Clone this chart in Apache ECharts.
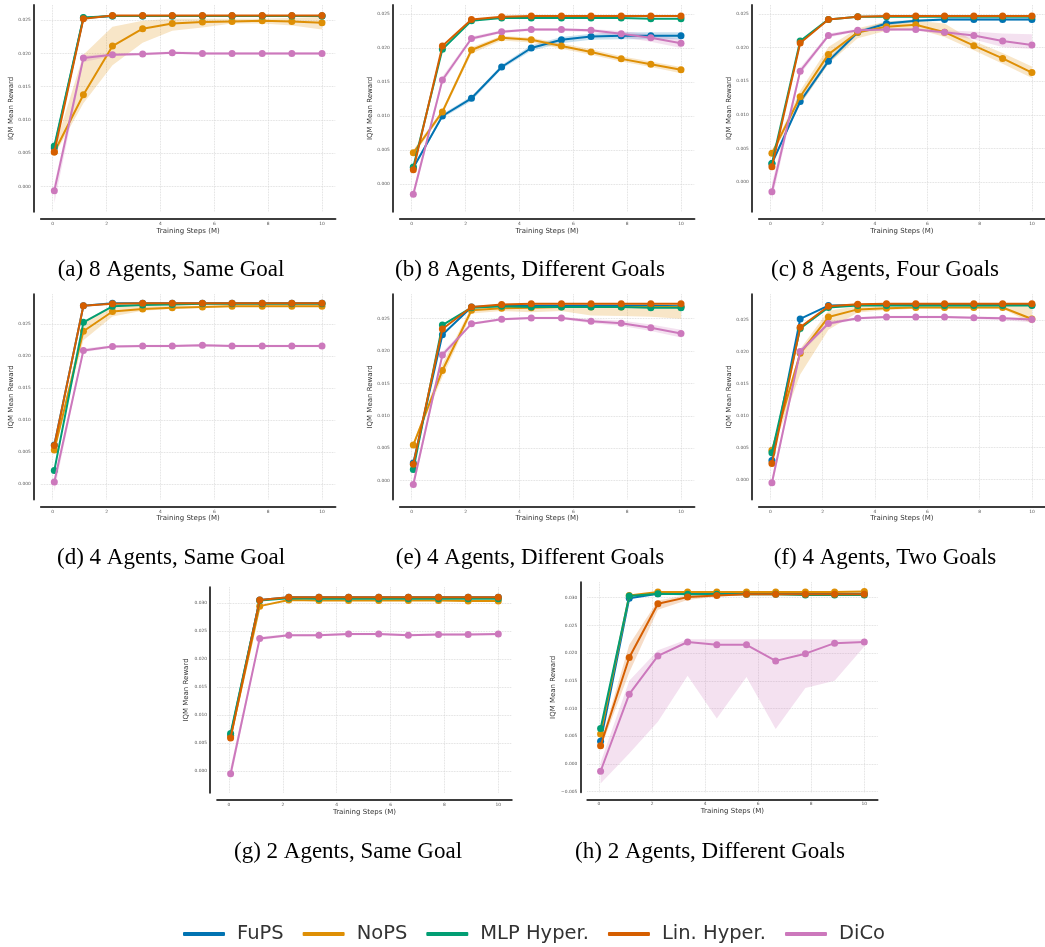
<!DOCTYPE html>
<html>
<head>
<meta charset="utf-8">
<script src="https://cdn.jsdelivr.net/npm/echarts@6/dist/echarts.min.js"></script>
<style>
	html, body { margin: 0; padding: 0; background: #fff; }
	#chart { width: 1045px; height: 947px; }
</style>
</head>
<body>
<div id="chart"></div>
<script>
const steps = [0.06, 1.14, 2.22, 3.34, 4.44, 5.56, 6.66, 7.78, 8.88, 10]
const methods = ['FuPS', 'NoPS', 'MLP Hyper.', 'Lin. Hyper.', 'DiCo']
const colors = ['#0173b2', '#de8f05', '#029e73', '#d55e00', '#cc78bc']
const xTicks = [0, 2, 4, 6, 8, 10]
const yTicks25 = [0, 0.005, 0.01, 0.015, 0.02, 0.025]
const yTicks30 = [0, 0.005, 0.01, 0.015, 0.02, 0.025, 0.03]
const yTicks30n = [-0.005, 0, 0.005, 0.01, 0.015, 0.02, 0.025, 0.03]

// (a) 8 Agents, Same Goal
const aFuPS = [0.0058, 0.0253, 0.0256, 0.0256, 0.0256, 0.0256, 0.0256, 0.0256, 0.0256, 0.0256]
const aNoPS = [0.0052, 0.0138, 0.0211, 0.0237, 0.0245, 0.0247, 0.0248, 0.0249, 0.0248, 0.0246]
const aMLP = [0.0061, 0.0254, 0.0256, 0.0256, 0.0256, 0.0256, 0.0256, 0.0256, 0.0256, 0.0256]
const aLin = [0.0052, 0.0252, 0.0257, 0.0257, 0.0257, 0.0257, 0.0257, 0.0257, 0.0257, 0.0257]
const aDiCo = [-0.0006, 0.0193, 0.0198, 0.0199, 0.0201, 0.0200, 0.0200, 0.0200, 0.0200, 0.0200]
const aNoPSLo = [0.0047, 0.0125, 0.0182, 0.0216, 0.0234, 0.0239, 0.0245, 0.0245, 0.0242, 0.0236]
const aNoPSHi = [0.0057, 0.0198, 0.0240, 0.0249, 0.0252, 0.0252, 0.0252, 0.0252, 0.0253, 0.0255]
const aDiCoLo = [-0.0025, 0.0187, 0.0196, 0.0197, 0.0199, 0.0198, 0.0198, 0.0198, 0.0198, 0.0198]
const aDiCoHi = [0.0004, 0.0197, 0.0200, 0.0201, 0.0203, 0.0202, 0.0202, 0.0202, 0.0202, 0.0202]

// (b) 8 Agents, Different Goals
const bFuPS = [0.0024, 0.0100, 0.0126, 0.0172, 0.0200, 0.0212, 0.0217, 0.0218, 0.0218, 0.0218]
const bNoPS = [0.0046, 0.0106, 0.0197, 0.0215, 0.0212, 0.0203, 0.0194, 0.0184, 0.0176, 0.0168]
const bMLP = [0.0025, 0.0198, 0.0240, 0.0244, 0.0244, 0.0244, 0.0244, 0.0244, 0.0243, 0.0243]
const bLin = [0.0021, 0.0203, 0.0242, 0.0246, 0.0247, 0.0247, 0.0247, 0.0247, 0.0247, 0.0247]
const bDiCo = [-0.0015, 0.0153, 0.0214, 0.0224, 0.0227, 0.0227, 0.0226, 0.0221, 0.0215, 0.0207]
const bFuPSLo = [0.0021, 0.0097, 0.0122, 0.0169, 0.0196, 0.0207, 0.0212, 0.0213, 0.0213, 0.0213]
const bFuPSHi = [0.0027, 0.0103, 0.0129, 0.0175, 0.0204, 0.0216, 0.0221, 0.0223, 0.0223, 0.0223]
const bNoPSLo = [0.0042, 0.0102, 0.0192, 0.0211, 0.0208, 0.0199, 0.0190, 0.0180, 0.0172, 0.0163]
const bNoPSHi = [0.0050, 0.0110, 0.0201, 0.0218, 0.0215, 0.0207, 0.0198, 0.0188, 0.0180, 0.0172]
const bDiCoLo = [-0.0022, 0.0148, 0.0211, 0.0222, 0.0225, 0.0225, 0.0223, 0.0216, 0.0209, 0.0200]
const bDiCoHi = [-0.0008, 0.0158, 0.0217, 0.0226, 0.0229, 0.0229, 0.0228, 0.0225, 0.0220, 0.0213]

// (c) 8 Agents, Four Goals
const cFuPS = [0.0028, 0.0120, 0.0180, 0.0223, 0.0236, 0.0240, 0.0242, 0.0242, 0.0242, 0.0242]
const cNoPS = [0.0043, 0.0127, 0.0190, 0.0223, 0.0231, 0.0234, 0.0223, 0.0203, 0.0184, 0.0163]
const cMLP = [0.0028, 0.0210, 0.0242, 0.0246, 0.0246, 0.0246, 0.0246, 0.0246, 0.0246, 0.0246]
const cLin = [0.0023, 0.0207, 0.0242, 0.0246, 0.0247, 0.0247, 0.0247, 0.0247, 0.0247, 0.0247]
const cDiCo = [-0.0014, 0.0165, 0.0218, 0.0226, 0.0227, 0.0227, 0.0223, 0.0218, 0.0210, 0.0204]
const cFuPSLo = [0.0025, 0.0116, 0.0176, 0.0220, 0.0233, 0.0238, 0.0240, 0.0240, 0.0240, 0.0240]
const cFuPSHi = [0.0031, 0.0124, 0.0184, 0.0226, 0.0239, 0.0242, 0.0244, 0.0244, 0.0244, 0.0244]
const cNoPSLo = [0.0040, 0.0115, 0.0176, 0.0214, 0.0225, 0.0228, 0.0216, 0.0196, 0.0176, 0.0155]
const cNoPSHi = [0.0046, 0.0136, 0.0201, 0.0229, 0.0239, 0.0240, 0.0236, 0.0210, 0.0192, 0.0172]
const cDiCoLo = [-0.0027, 0.0160, 0.0215, 0.0224, 0.0225, 0.0225, 0.0220, 0.0212, 0.0201, 0.0198]
const cDiCoHi = [-0.0002, 0.0170, 0.0221, 0.0228, 0.0229, 0.0229, 0.0226, 0.0224, 0.0221, 0.0220]

// (d) 4 Agents, Same Goal
const dFuPS = [0.0061, 0.0279, 0.0283, 0.0283, 0.0283, 0.0283, 0.0283, 0.0283, 0.0283, 0.0283]
const dNoPS = [0.0053, 0.0239, 0.0270, 0.0274, 0.0276, 0.0277, 0.0278, 0.0278, 0.0278, 0.0278]
const dMLP = [0.0021, 0.0253, 0.0278, 0.0280, 0.0281, 0.0282, 0.0282, 0.0282, 0.0282, 0.0282]
const dLin = [0.0060, 0.0279, 0.0282, 0.0283, 0.0283, 0.0283, 0.0283, 0.0283, 0.0283, 0.0283]
const dDiCo = [0.0003, 0.0209, 0.0215, 0.0216, 0.0216, 0.0217, 0.0216, 0.0216, 0.0216, 0.0216]
const dNoPSLo = [0.0050, 0.0225, 0.0262, 0.0271, 0.0274, 0.0276, 0.0277, 0.0277, 0.0277, 0.0277]
const dNoPSHi = [0.0056, 0.0255, 0.0279, 0.0278, 0.0279, 0.0279, 0.0280, 0.0280, 0.0280, 0.0280]
const dDiCoLo = [-0.0012, 0.0206, 0.0213, 0.0214, 0.0214, 0.0215, 0.0214, 0.0214, 0.0214, 0.0214]
const dDiCoHi = [0.0010, 0.0212, 0.0217, 0.0218, 0.0218, 0.0219, 0.0218, 0.0218, 0.0218, 0.0218]

// (e) 4 Agents, Different Goals
const eFuPS = [0.0027, 0.0225, 0.0268, 0.0270, 0.0270, 0.0270, 0.0270, 0.0270, 0.0270, 0.0269]
const eNoPS = [0.0055, 0.0170, 0.0263, 0.0266, 0.0267, 0.0268, 0.0268, 0.0268, 0.0268, 0.0268]
const eMLP = [0.0017, 0.0240, 0.0267, 0.0269, 0.0268, 0.0268, 0.0268, 0.0268, 0.0267, 0.0267]
const eLin = [0.0025, 0.0234, 0.0268, 0.0272, 0.0273, 0.0273, 0.0273, 0.0273, 0.0273, 0.0273]
const eDiCo = [-0.0006, 0.0194, 0.0242, 0.0249, 0.0251, 0.0251, 0.0246, 0.0243, 0.0236, 0.0227]
const eNoPSLo = [0.0052, 0.0160, 0.0258, 0.0262, 0.0260, 0.0262, 0.0255, 0.0254, 0.0253, 0.0250]
const eNoPSHi = [0.0058, 0.0180, 0.0268, 0.0271, 0.0272, 0.0272, 0.0272, 0.0272, 0.0272, 0.0272]
const eDiCoLo = [-0.0014, 0.0189, 0.0240, 0.0247, 0.0249, 0.0249, 0.0243, 0.0239, 0.0231, 0.0221]
const eDiCoHi = [0.0002, 0.0199, 0.0244, 0.0251, 0.0253, 0.0253, 0.0249, 0.0247, 0.0241, 0.0233]

// (f) 4 Agents, Two Goals
const fFuPS = [0.0030, 0.0252, 0.0273, 0.0274, 0.0274, 0.0274, 0.0274, 0.0274, 0.0274, 0.0274]
const fNoPS = [0.0046, 0.0198, 0.0255, 0.0267, 0.0269, 0.0270, 0.0270, 0.0270, 0.0270, 0.0252]
const fMLP = [0.0042, 0.0237, 0.0270, 0.0273, 0.0273, 0.0273, 0.0273, 0.0273, 0.0273, 0.0273]
const fLin = [0.0025, 0.0239, 0.0272, 0.0275, 0.0276, 0.0276, 0.0276, 0.0276, 0.0276, 0.0276]
const fDiCo = [-0.0005, 0.0201, 0.0245, 0.0253, 0.0255, 0.0255, 0.0255, 0.0254, 0.0253, 0.0251]
const fNoPSLo = [0.0043, 0.0165, 0.0235, 0.0262, 0.0266, 0.0268, 0.0268, 0.0268, 0.0268, 0.0245]
const fNoPSHi = [0.0049, 0.0205, 0.0265, 0.0272, 0.0274, 0.0274, 0.0274, 0.0274, 0.0274, 0.0272]
const fDiCoLo = [-0.0013, 0.0196, 0.0242, 0.0251, 0.0253, 0.0253, 0.0253, 0.0252, 0.0250, 0.0247]
const fDiCoHi = [0.0003, 0.0205, 0.0248, 0.0255, 0.0257, 0.0257, 0.0257, 0.0256, 0.0255, 0.0254]

// (g) 2 Agents, Same Goal
const gFuPS = [0.0064, 0.0306, 0.0311, 0.0311, 0.0311, 0.0311, 0.0311, 0.0311, 0.0311, 0.0311]
const gNoPS = [0.0061, 0.0295, 0.0306, 0.0305, 0.0305, 0.0305, 0.0305, 0.0305, 0.0304, 0.0304]
const gMLP = [0.0067, 0.0305, 0.0309, 0.0308, 0.0308, 0.0308, 0.0308, 0.0308, 0.0308, 0.0308]
const gLin = [0.0059, 0.0306, 0.0311, 0.0311, 0.0311, 0.0311, 0.0311, 0.0311, 0.0311, 0.0311]
const gDiCo = [-0.0005, 0.0237, 0.0243, 0.0243, 0.0245, 0.0245, 0.0243, 0.0244, 0.0244, 0.0245]
const gDiCoLo = [-0.0017, 0.0234, 0.0241, 0.0241, 0.0243, 0.0243, 0.0241, 0.0242, 0.0242, 0.0243]
const gDiCoHi = [0.0007, 0.0240, 0.0245, 0.0245, 0.0247, 0.0247, 0.0245, 0.0246, 0.0246, 0.0247]

// (h) 2 Agents, Different Goals
const hFuPS = [0.0041, 0.0299, 0.0307, 0.0307, 0.0307, 0.0307, 0.0307, 0.0307, 0.0307, 0.0307]
const hNoPS = [0.0054, 0.0304, 0.0310, 0.0310, 0.0310, 0.0310, 0.0310, 0.0310, 0.0310, 0.0311]
const hMLP = [0.0064, 0.0303, 0.0307, 0.0306, 0.0306, 0.0306, 0.0306, 0.0305, 0.0305, 0.0305]
const hLin = [0.0033, 0.0192, 0.0289, 0.0301, 0.0304, 0.0306, 0.0306, 0.0306, 0.0306, 0.0306]
const hDiCo = [-0.0013, 0.0126, 0.0195, 0.0220, 0.0215, 0.0215, 0.0186, 0.0199, 0.0218, 0.0220]
const hLinLo = [0.0028, 0.0165, 0.0278, 0.0296, 0.0302, 0.0304, 0.0304, 0.0304, 0.0304, 0.0304]
const hLinHi = [0.0038, 0.0215, 0.0295, 0.0305, 0.0306, 0.0308, 0.0308, 0.0308, 0.0308, 0.0308]
const hDiCoLo = [-0.0035, 0.0019, 0.0076, 0.0159, 0.0082, 0.0157, 0.0063, 0.0137, 0.0150, 0.0212]
const hDiCoHi = [0.0003, 0.0150, 0.0205, 0.0225, 0.0225, 0.0225, 0.0225, 0.0225, 0.0225, 0.0225]

const captions = [
	'(a) 8 Agents, Same Goal', '(b) 8 Agents, Different Goals', '(c) 8 Agents, Four Goals',
	'(d) 4 Agents, Same Goal', '(e) 4 Agents, Different Goals', '(f) 4 Agents, Two Goals',
	'(g) 2 Agents, Same Goal', '(h) 2 Agents, Different Goals'
]

// 每个子图: 数据 + 位置
const panels = [
	{ mean: [aFuPS, aNoPS, aMLP, aLin, aDiCo], bands: [[1, aNoPSLo, aNoPSHi], [4, aDiCoLo, aDiCoHi]], yTicks: yTicks25,
		x0: 52.7, s: 26.93, top: 5, bottom: 211.7, ymin: -0.00376, ymax: 0.02726, gap: 19, capX: 171, capY: 270 },
	{ mean: [bFuPS, bNoPS, bMLP, bLin, bDiCo], bands: [[0, bFuPSLo, bFuPSHi], [1, bNoPSLo, bNoPSHi], [4, bDiCoLo, bDiCoHi]], yTicks: yTicks25,
		x0: 411.7, s: 26.93, top: 5, bottom: 211.7, ymin: -0.00407, ymax: 0.02632, gap: 18.5, capX: 530, capY: 270 },
	{ mean: [cFuPS, cNoPS, cMLP, cLin, cDiCo], bands: [[0, cFuPSLo, cFuPSHi], [1, cNoPSLo, cNoPSHi], [4, cDiCoLo, cDiCoHi]], yTicks: yTicks25,
		x0: 770.7, s: 26.93, top: 5, bottom: 211.7, ymin: -0.00437, ymax: 0.02634, gap: 19, capX: 885, capY: 270 },
	{ mean: [dFuPS, dNoPS, dMLP, dLin, dDiCo], bands: [[1, dNoPSLo, dNoPSHi], [4, dDiCoLo, dDiCoHi]], yTicks: yTicks25,
		x0: 52.7, s: 26.93, top: 294.3, bottom: 499.5, ymin: -0.00245, ymax: 0.02969, gap: 19, capX: 171, capY: 558 },
	{ mean: [eFuPS, eNoPS, eMLP, eLin, eDiCo], bands: [[1, eNoPSLo, eNoPSHi], [4, eDiCoLo, eDiCoHi]], yTicks: yTicks25,
		x0: 411.7, s: 26.93, top: 294.3, bottom: 499.5, ymin: -0.00293, ymax: 0.02876, gap: 19, capX: 530, capY: 558 },
	{ mean: [fFuPS, fNoPS, fMLP, fLin, fDiCo], bands: [[1, fNoPSLo, fNoPSHi], [4, fDiCoLo, fDiCoHi]], yTicks: yTicks25,
		x0: 770.7, s: 26.93, top: 294.3, bottom: 499.5, ymin: -0.00313, ymax: 0.02907, gap: 19, capX: 885, capY: 558 },
	{ mean: [gFuPS, gNoPS, gMLP, gLin, gDiCo], bands: [[4, gDiCoLo, gDiCoHi]], yTicks: yTicks30,
		x0: 229, s: 26.93, top: 587.3, bottom: 792.7, ymin: -0.0039, ymax: 0.03287, gap: 20, capX: 348, capY: 852 },
	{ mean: [hFuPS, hNoPS, hMLP, hLin, hDiCo], bands: [[3, hLinLo, hLinHi], [4, hDiCoLo, hDiCoHi]], yTicks: yTicks30n,
		x0: 599, s: 26.53, top: 582.3, bottom: 792.3, ymin: -0.0051, ymax: 0.03277, gap: 23, capX: 710, capY: 852 }
]

const XMIN = -0.44
const XMAX = 10.5
const axisColor = '#3d3d3d'
const gridLine = { show: true, lineStyle: { type: 'dotted', color: '#d6d6d6', width: 0.8 } }
const tickFont = { fontFamily: 'DejaVu Sans', fontSize: 4.4, color: '#555' }
const nameFont = { fontFamily: 'DejaVu Sans', fontSize: 7, color: '#333' }

const fmtY = (v) => (v < 0 ? '\u2212' + Math.abs(v).toFixed(3) : v.toFixed(3))

// 置信带: 整个多边形在第一个数据点上画出
const bandRender = (lo, hi, color) => (params, api) => {
	if (params.dataIndex !== 0) return { type: 'group', children: [] }
	const upper = steps.map((x, k) => api.coord([x, hi[k]]))
	const lower = steps.map((x, k) => api.coord([x, lo[k]])).reverse()
	return {
		type: 'polygon',
		shape: { points: upper.concat(lower) },
		style: { fill: color, opacity: 0.22 }
	}
}

const grid = []
const xAxis = []
const yAxis = []
const series = []
const graphic = []

panels.forEach((p, i) => {
	grid.push({
		left: p.x0 + XMIN * p.s,
		width: (XMAX - XMIN) * p.s,
		top: p.top,
		height: p.bottom - p.top,
		containLabel: false
	})
	xAxis.push({
		type: 'value',
		gridIndex: i,
		min: XMIN,
		max: XMAX,
		offset: 7.5,
		axisLine: { show: true, onZero: false, lineStyle: { color: axisColor, width: 2 } },
		axisTick: { show: false, customValues: xTicks },
		axisLabel: { customValues: xTicks, formatter: (v) => String(v), margin: 2.5, ...tickFont },
		splitLine: gridLine,
		name: 'Training Steps (M)',
		nameLocation: 'middle',
		nameGap: 8,
		nameTextStyle: nameFont
	})
	yAxis.push({
		type: 'value',
		gridIndex: i,
		min: p.ymin,
		max: p.ymax,
		offset: 7,
		axisLine: { show: true, onZero: false, lineStyle: { color: axisColor, width: 2 } },
		axisTick: { show: false, customValues: p.yTicks },
		axisLabel: { customValues: p.yTicks, formatter: fmtY, margin: 3, ...tickFont },
		splitLine: gridLine,
		name: 'IQM Mean Reward',
		nameLocation: 'middle',
		nameGap: p.gap,
		nameTextStyle: nameFont
	})
	p.bands.forEach(([j, lo, hi]) => {
		series.push({
			type: 'custom',
			name: 'band',
			xAxisIndex: i,
			yAxisIndex: i,
			silent: true,
			z: 1,
			data: steps.map((x, k) => [x, lo[k], hi[k]]),
			renderItem: bandRender(lo, hi, colors[j])
		})
	})
	p.mean.forEach((vals, j) => {
		series.push({
			type: 'line',
			name: methods[j],
			xAxisIndex: i,
			yAxisIndex: i,
			data: steps.map((x, k) => [x, vals[k]]),
			symbol: 'circle',
			symbolSize: 7,
			showSymbol: true,
			lineStyle: { width: 2, color: colors[j] },
			itemStyle: { color: colors[j] },
			z: 3 + j
		})
	})
	graphic.push({
		type: 'text',
		x: p.capX,
		y: p.capY,
		style: {
			text: captions[i],
			font: '23px "Liberation Serif", "Times New Roman", serif',
			fill: '#000',
			align: 'center',
			verticalAlign: 'middle'
		}
	})
})

const chart = echarts.init(document.getElementById('chart'), null, { renderer: 'canvas' })
chart.setOption({
	animation: false,
	backgroundColor: '#fff',
	color: colors,
	grid,
	xAxis,
	yAxis,
	series,
	graphic,
	legend: {
		data: methods,
		left: 183,
		top: 924,
		padding: 0,
		icon: 'roundRect',
		itemWidth: 42,
		itemHeight: 4,
		itemGap: 19,
		textStyle: { fontFamily: 'DejaVu Sans', fontSize: 19.5, color: '#333', padding: [0, 0, 0, 7] }
	}
})
</script>
</body>
</html>
